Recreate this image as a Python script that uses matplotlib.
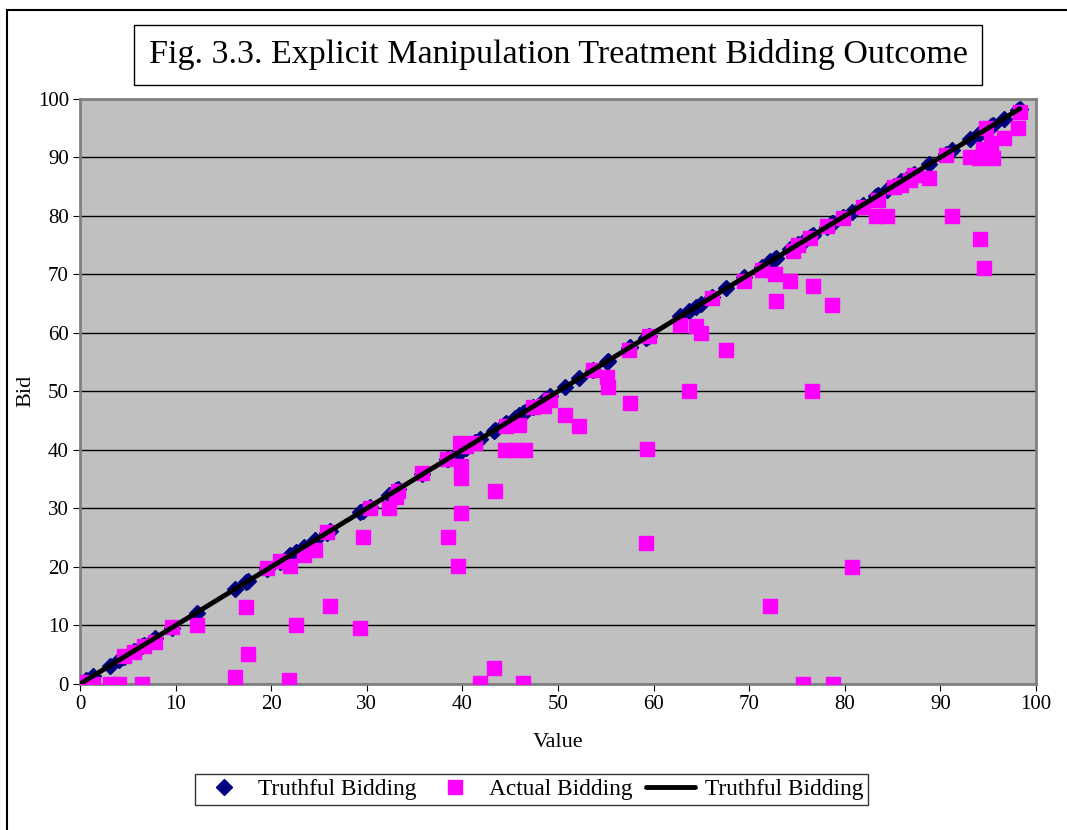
import matplotlib.pyplot as plt
import matplotlib.patches as patches
import numpy as np

# --- data (value, bid) ---
values = [0.0, 0.6, 1.4, 3.1, 4.1, 4.6, 5.6, 6.5, 6.7, 7.8,
          9.6, 12.2, 16.2, 17.4, 17.6, 19.6, 20.9, 22.0, 21.9, 22.6,
          23.4, 24.6, 25.8, 26.1, 29.3, 29.6, 30.3, 32.3, 33.1, 33.3,
          35.8, 38.4, 38.5, 39.5, 39.9, 39.8, 39.9, 39.7, 40.4, 41.3,
          41.8, 43.3, 43.4, 44.4, 45.5, 46.5, 44.6, 45.9, 46.3, 47.4,
          48.5, 49.2, 50.7, 52.2, 53.7, 55.1, 55.2, 57.4, 57.5, 59.3,
          59.2, 59.5, 62.8, 63.7, 64.4, 65.0, 66.1, 67.6, 69.5, 71.3,
          72.7, 72.8, 72.2, 74.3, 74.6, 75.1, 75.6, 76.4, 76.7, 76.6,
          78.1, 78.7, 78.8, 79.8, 80.7, 81.9, 83.3, 83.5, 84.4, 85.1,
          85.9, 86.8, 87.2, 88.8, 90.6, 91.2, 93.1, 94.0, 95.5, 94.5,
          95.3, 94.1, 94.6, 94.8, 96.6, 98.1, 98.3]
bids = [0.0, 0.4, 0.0, 0.0, 0.0, 4.8, 5.5, 0.0, 6.4, 7.1,
        9.8, 10.1, 1.1, 13.1, 5.1, 19.8, 21.0, 20.1, 0.7, 10.1,
        22.1, 22.9, 25.9, 13.4, 9.5, 25.1, 30.0, 30.0, 32.0, 33.0,
        36.0, 38.5, 25.1, 20.1, 29.2, 35.2, 37.2, 41.1, 40.6, 41.1,
        0.1, 2.7, 33.0, 40.0, 40.0, 40.0, 44.0, 44.2, 0.1, 47.4,
        47.5, 48.5, 46.0, 44.0, 53.7, 52.5, 50.7, 57.1, 48.0, 40.1,
        24.0, 59.5, 61.4, 50.0, 61.1, 60.0, 66.0, 57.0, 68.9, 70.8,
        70.0, 65.4, 13.3, 68.9, 74.0, 75.0, 0.0, 76.2, 68.0, 50.0,
        78.2, 64.7, 0.0, 79.6, 20.0, 81.5, 80.0, 82.7, 80.0, 85.0,
        85.2, 86.2, 87.0, 86.5, 90.4, 80.0, 90.1, 89.9, 89.9, 91.5,
        92.5, 76.0, 71.0, 95.0, 93.3, 95.0, 97.8]

x_ticks = list(range(0, 101, 10))
y_ticks = list(range(0, 101, 10))

values = np.array(values)
bids = np.array(bids)
line_x = np.sort(values)

plt.rcParams['font.family'] = ['Liberation Serif', 'DejaVu Serif']

fig = plt.figure(figsize=(10.67, 8.3), dpi=100)
ax = fig.add_axes([0.075, 0.176, 0.896, 0.705])
ax.set_facecolor('#C0C0C0')

# --- vykresleni ---
ax.plot(values, values, linestyle='none', marker='D', markersize=8,
        color='#000080', label='Truthful Bidding', zorder=3)
ax.plot(values, bids, linestyle='none', marker='s', markersize=10.5,
        color='#FF00FF', label='Actual Bidding', zorder=4)
ax.plot(line_x, line_x, color='black', linewidth=3.5,
        solid_capstyle='round', label='Truthful Bidding', zorder=5)

ax.set_xlim(0, 100)
ax.set_ylim(0, 100)
ax.set_xticks(x_ticks)
ax.set_yticks(y_ticks)
ax.tick_params(labelsize=15, direction='out', length=5, color='black', pad=3)
ax.yaxis.grid(True, color='black', linewidth=1)
ax.set_axisbelow(True)
for s in ['top', 'right', 'left', 'bottom']:
    ax.spines[s].set_color('#808080')
    ax.spines[s].set_linewidth(2)

ax.set_xlabel('Value', fontsize=16, labelpad=14)
ax.set_ylabel('Bid', fontsize=16, labelpad=2)

fig.text(0.523, 0.934, 'Fig. 3.3. Explicit Manipulation Treatment Bidding Outcome',
         fontsize=24.5, ha='center', va='center',
         bbox=dict(boxstyle='square,pad=0.42', facecolor='white',
                   edgecolor='black', linewidth=1))

leg = fig.legend(loc='center', bbox_to_anchor=(0.498, 0.049), ncol=3,
                 fontsize=16.8, frameon=True, fancybox=False,
                 edgecolor='black', handlelength=2.1, columnspacing=0.6,
                 borderpad=0.2, handletextpad=0.4)
leg.get_frame().set_linewidth(1)

# outer chart border
fig.patches.append(patches.Rectangle((7 / 1067, -0.05), 1.2, (830 - 10) / 830 + 0.05,
                                     transform=fig.transFigure, fill=False,
                                     edgecolor='black', linewidth=1.5))

fig.savefig('out.png', dpi=100)
